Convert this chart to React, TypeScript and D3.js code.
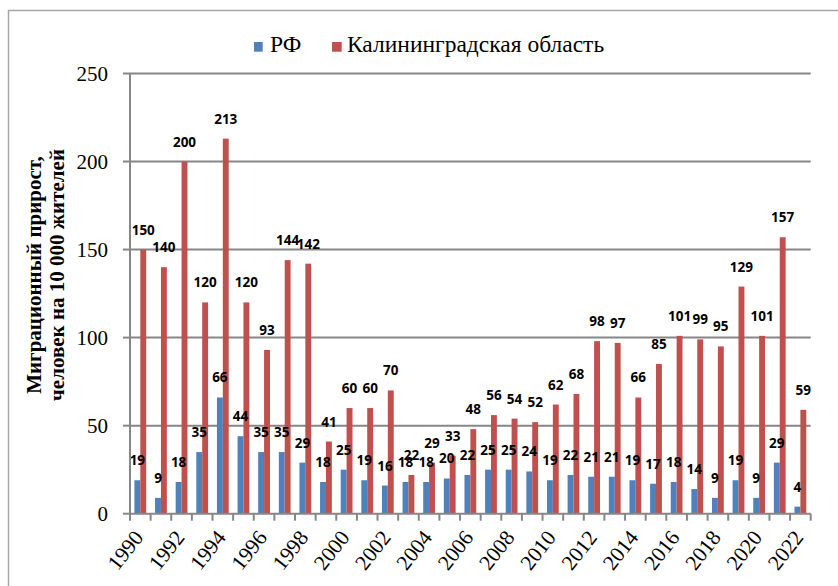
import React from "react";
import * as d3 from "d3";

const years = d3.range(1990, 2023).map(String);
const rfValues = [19, 9, 18, 35, 66, 44, 35, 35, 29, 18, 25, 19, 16, 18, 18, 20, 22, 25, 25, 24, 19, 22, 21, 21, 19, 17, 18, 14, 9, 19, 9, 29, 4];
const kalValues = [150, 140, 200, 120, 213, 120, 93, 144, 142, 41, 60, 60, 70, 22, 29, 33, 48, 56, 54, 52, 62, 68, 98, 97, 66, 85, 101, 99, 95, 129, 101, 157, 59];
const seriesNames = ["РФ", "Калининградская область"];
const seriesColors = ["#4F81BD", "#C0504D"];
const yTicks = [0, 50, 100, 150, 200, 250];

const W = 838;
const H = 586;
const left = 130;
const right = 810.7;
const top = 73.5;
const bottom = 513.7;

export default function App() {
  // category band + two bars per year (Excel gap width ~150%)
  const x0 = d3.scaleBand<string>().domain(years).range([left, right]).padding(0);
  const x1 = d3
    .scaleBand<string>()
    .domain(["rf", "kal"])
    .range([0, x0.bandwidth()])
    .paddingInner(0)
    .paddingOuter(0.75);
  const y = d3.scaleLinear().domain([0, 250]).range([bottom, top]);

  const series = [
    { key: "rf", values: rfValues, color: seriesColors[0] },
    { key: "kal", values: kalValues, color: seriesColors[1] },
  ];

  const serif = "'Liberation Serif', 'DejaVu Serif', serif";
  const sans = "'Open Sans', 'Liberation Sans', sans-serif";
  const gray = "#868686";

  return (
    <svg width={W} height={H} style={{ position: "absolute", left: 0, top: 0, background: "#fff" }}>
      <rect x={8.5} y={10.5} width={840} height={600} fill="#fff" stroke="#a6a6a6" strokeWidth={1.5} />

      {/* legend */}
      <g fontFamily={serif} fontSize={23.5} fill="#000">
        <rect x={254} y={42} width={8.7} height={9.7} fill={seriesColors[0]} />
        <text x={270} y={52}>{seriesNames[0]}</text>
        <rect x={332} y={42} width={9.7} height={9.7} fill={seriesColors[1]} />
        <text x={347} y={52}>{seriesNames[1]}</text>
      </g>

      {/* gridlines */}
      {yTicks.map((t) => (
        <g key={t}>
          {t > 0 && <line x1={left} x2={right} y1={y(t)} y2={y(t)} stroke={gray} strokeWidth={2} />}
          <line x1={left - 7} x2={left} y1={y(t)} y2={y(t)} stroke={gray} strokeWidth={2} />
          <text
            x={108}
            y={y(t)}
            dy="0.35em"
            textAnchor="end"
            fontFamily={serif}
            fontSize={21}
            fill="#000"
          >
            {t}
          </text>
        </g>
      ))}

      {/* bars */}
      {series.map((s) =>
        s.values.map((v, i) => (
          <rect
            key={s.key + i}
            x={(x0(years[i]) ?? 0) + (x1(s.key) ?? 0)}
            y={y(v)}
            width={x1.bandwidth()}
            height={y(0) - y(v)}
            fill={s.color}
          />
        ))
      )}

      {/* data labels */}
      {series.map((s) =>
        s.values.map((v, i) => (
          <text
            key={"l" + s.key + i}
            x={(x0(years[i]) ?? 0) + (x1(s.key) ?? 0) + x1.bandwidth() / 2}
            y={y(v) - 15}
            textAnchor="middle"
            fontFamily={sans}
            fontWeight="bold"
            fontSize={13.5}
            fill="#000"
          >
            {v}
          </text>
        ))
      )}

      {/* axes */}
      <line x1={left} x2={left} y1={top} y2={bottom} stroke={gray} strokeWidth={2} />
      <line x1={left} x2={right} y1={bottom} y2={bottom} stroke={gray} strokeWidth={2} />
      {years.concat(["end"]).map((yr, i) => {
        const xx = i < years.length ? (x0(yr) ?? 0) : right;
        return <line key={"t" + i} x1={xx} x2={xx} y1={bottom} y2={bottom + 7} stroke={gray} strokeWidth={2} />;
      })}
      {years.map((yr, i) =>
        i % 2 === 0 ? (
          <text
            key={"x" + yr}
            transform={`translate(${(x0(yr) ?? 0) + x0.bandwidth() / 2 + 4},${bottom + 24}) rotate(-52)`}
            textAnchor="end"
            fontFamily={serif}
            fontSize={21.5}
            fill="#000"
          >
            {yr}
          </text>
        ) : null
      )}

      {/* y title */}
      <text
        transform={`translate(41,275) rotate(-90)`}
        textAnchor="middle"
        fontFamily={serif}
        fontWeight="bold"
        fontSize={21}
        fill="#000"
      >
        Миграционный прирост,
      </text>
      <text
        transform={`translate(64,275) rotate(-90)`}
        textAnchor="middle"
        fontFamily={serif}
        fontWeight="bold"
        fontSize={21}
        fill="#000"
      >
        человек на 10 000 жителей
      </text>
    </svg>
  );
}
